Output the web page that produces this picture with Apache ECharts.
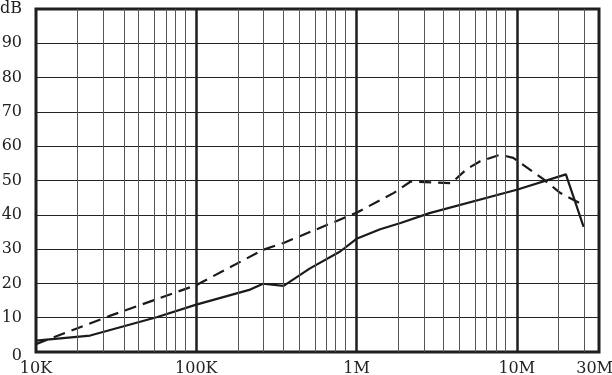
<!DOCTYPE html>
<html>
<head>
<meta charset="utf-8">
<script src="https://cdn.jsdelivr.net/npm/echarts@6/dist/echarts.min.js"></script>
<style>
html, body { margin: 0; padding: 0; background: #fff; }
#chart { width: 612px; height: 375px; }
</style>
</head>
<body>
<div id="chart"></div>
<script>
// frequencies in Hz, levels in dB
const solidFreq = [1e4, 2.5e4, 6.3e4, 1e5, 2.49e5, 3e5, 4e5, 5.7e5, 8.45e5, 1e6, 1.57e6, 2.1e6, 3.3e6, 1e7, 2.3e7, 3e7];
const solidDb = [3.3, 4.8, 10.2, 13.8, 18.2, 19.9, 19.3, 24.3, 29.3, 33.0, 35.8, 37.6, 40.5, 47.3, 51.8, 36.5];

const dashFreq = [1e4, 3.37e4, 1e5, 3e5, 4e5, 1e6, 1.9e6, 2.5e6, 4.5e6, 5.5e6, 6.5e6, 8.4e6, 9.7e6, 1.64e7, 2.07e7, 3e7];
const dashDb = [2.3, 10.6, 19.5, 29.8, 31.8, 40.6, 46.4, 49.7, 49.2, 53.3, 55.6, 57.5, 56.6, 50.4, 46.4, 42.8];

const xLabelFreq = [1e4, 1e5, 1e6, 1e7, 3e7];
const xLabels = ["10K", "100K", "1M", "10M", "30M"];
const minorFreq = [];
[1e4, 1e5, 1e6].forEach(d => { for (let k = 2; k <= 9; k++) minorFreq.push(k * d); });
minorFreq.push(2e7, 3e7);
const majorFreq = [1e5, 1e6, 1e7];

// position of 1..10 inside one decade, as the paper grid is printed
const fracs = [0, 0.259, 0.417, 0.545, 0.637, 0.737, 0.806, 0.874, 0.927, 1];
const xMax = 3.513;

function pos(f) {
  const n = Math.floor(Math.log10(f / 1e4) + 1e-9);
  const m = f / (1e4 * Math.pow(10, n));
  const k = Math.min(9, Math.floor(m + 1e-9));
  const t = m - k;
  return n + fracs[k - 1] + t * (fracs[k] - fracs[k - 1]);
}

const font = "DejaVu Serif";
const chart = echarts.init(document.getElementById("chart"));

const option = {
  animation: false,
  grid: {
    left: 36, right: 13, top: 9, bottom: 23,
    outerBoundsMode: "none",
    containLabel: false,
    show: true,
    borderColor: "#1e1e1e",
    borderWidth: 3
  },
  xAxis: {
    type: "value",
    min: 0,
    max: xMax,
    axisLine: { show: false },
    axisTick: { show: false },
    splitLine: { show: false },
    axisLabel: {
      customValues: xLabelFreq.map(pos),
      margin: 9,
      color: "#222",
      fontFamily: font,
      fontSize: 16,
      formatter: v => {
        const i = xLabelFreq.findIndex(f => Math.abs(pos(f) - v) < 1e-6);
        if (i === xLabels.length - 1) return "{r|" + xLabels[i] + "}";
        return i >= 0 ? xLabels[i] : "";
      },
      rich: {
        r: { fontFamily: font, fontSize: 16, color: "#222", padding: [0, 0, 0, 22] }
      }
    }
  },
  yAxis: {
    type: "value",
    min: 0,
    max: 100,
    interval: 10,
    axisLine: { show: false },
    axisTick: { show: false },
    splitLine: { show: true, lineStyle: { color: "#222", width: 1 } },
    axisLabel: {
      margin: 14,
      color: "#222",
      fontFamily: font,
      fontSize: 16,
      formatter: v => v === 100 ? "dB" : (v === 0 ? "{z|0}" : String(v)),
      rich: {
        z: { fontFamily: font, fontSize: 16, color: "#222", padding: [8, 0, 0, 0] }
      }
    }
  },
  series: [
    {
      type: "line",
      data: [],
      z: 1,
      silent: true,
      markLine: {
        silent: true,
        animation: false,
        symbol: ["none", "none"],
        label: { show: false },
        data: minorFreq.map(f => ({ xAxis: pos(f), lineStyle: { color: "#555", width: 1, type: "solid" } }))
          .concat(majorFreq.map(f => ({ xAxis: pos(f), lineStyle: { color: "#1e1e1e", width: 2.5, type: "solid" } })))
      }
    },
    {
      name: "solid",
      type: "line",
      z: 3,
      symbol: "none",
      lineStyle: { color: "#1a1a1a", width: 2.2 },
      data: solidFreq.map((f, i) => [pos(f), solidDb[i]])
    },
    {
      name: "dashed",
      type: "line",
      z: 3,
      symbol: "none",
      lineStyle: { color: "#1a1a1a", width: 2.2, type: [12, 7] },
      data: dashFreq.map((f, i) => [pos(f), dashDb[i]])
    }
  ]
};

chart.setOption(option);
</script>
</body>
</html>
